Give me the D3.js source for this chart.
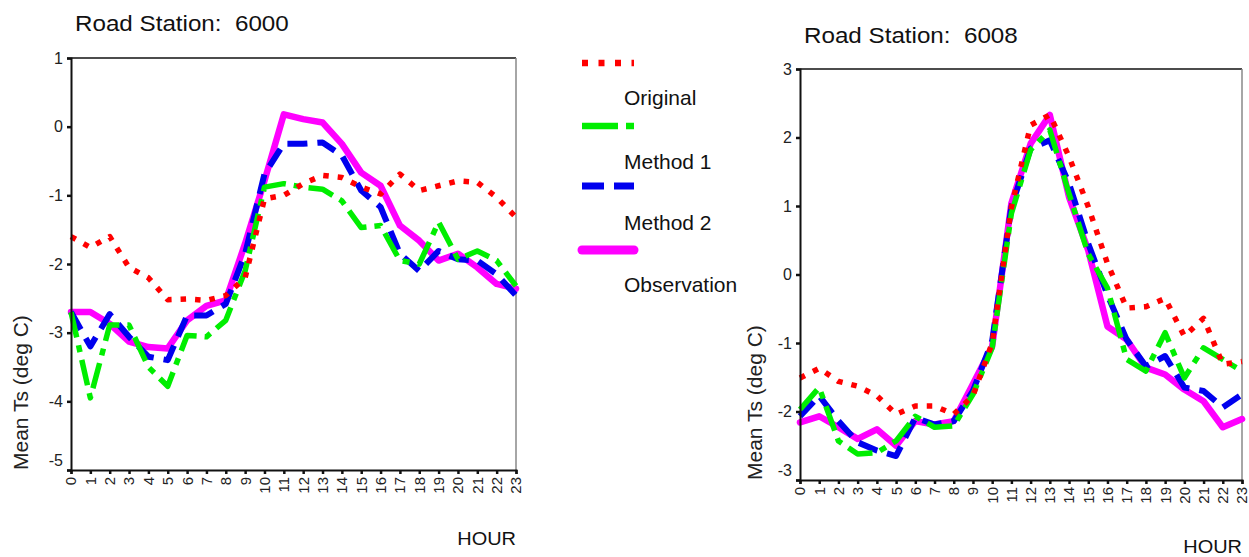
<!DOCTYPE html>
<html><head><meta charset="utf-8">
<script src="https://cdn.jsdelivr.net/npm/d3@7/dist/d3.min.js"></script>
<style>body{margin:0;background:#fff}svg{display:block;font-family:"Liberation Sans",Arial,sans-serif}</style>
</head><body><svg id="c" width="1249" height="557"></svg>
<script>
const hours = d3.range(0, 24);
const hourLabels = hours.map(String);
const seriesNames = ["Original", "Method 1", "Method 2", "Observation"];

// Road Station 6000
const s6000_original = [-1.6,-1.76,-1.6,-2.05,-2.2,-2.52,-2.51,-2.53,-2.46,-2.2,-1.05,-1.0,-0.83,-0.71,-0.74,-0.88,-0.98,-0.69,-0.93,-0.86,-0.79,-0.81,-1.03,-1.32];
const s6000_method1  = [-2.7,-3.95,-2.89,-2.89,-3.5,-3.78,-3.04,-3.06,-2.82,-2.1,-0.88,-0.83,-0.88,-0.91,-1.08,-1.47,-1.44,-1.95,-2.0,-1.39,-1.93,-1.81,-1.95,-2.32];
const s6000_method2  = [-2.7,-3.2,-2.73,-3.06,-3.35,-3.4,-2.75,-2.75,-2.58,-1.85,-0.69,-0.25,-0.25,-0.23,-0.42,-0.93,-1.17,-1.85,-2.1,-1.81,-1.93,-1.95,-2.15,-2.46];
const s6000_obs      = [-2.7,-2.7,-2.87,-3.13,-3.21,-3.23,-2.82,-2.61,-2.53,-1.7,-0.79,0.18,0.11,0.06,-0.25,-0.67,-0.86,-1.44,-1.66,-1.95,-1.85,-2.05,-2.29,-2.36];
const s6000_ticks = [1,0,-1,-2,-3,-4,-5];

// Road Station 6008
const s6008_original = [-1.51,-1.37,-1.56,-1.63,-1.77,-2.04,-1.92,-1.92,-2.04,-1.77,-1.0,0.98,2.18,2.33,1.72,0.99,0.16,-0.49,-0.47,-0.35,-0.9,-0.64,-1.31,-1.27];
const s6008_method1  = [-1.97,-1.65,-2.43,-2.62,-2.6,-2.43,-2.07,-2.23,-2.21,-1.75,-1.07,0.89,1.82,2.11,1.18,0.3,-0.2,-1.24,-1.41,-0.85,-1.51,-1.07,-1.24,-1.41];
const s6008_method2  = [-2.07,-1.77,-2.14,-2.45,-2.57,-2.65,-2.09,-2.19,-2.14,-1.7,-0.97,0.99,1.84,1.96,1.33,0.45,-0.3,-0.95,-1.34,-1.19,-1.65,-1.7,-1.94,-1.75];
const s6008_obs      = [-2.16,-2.07,-2.23,-2.4,-2.26,-2.5,-2.14,-2.19,-2.14,-1.6,-1.05,1.04,1.91,2.33,1.13,0.35,-0.76,-0.95,-1.36,-1.46,-1.68,-1.85,-2.23,-2.11];
const s6008_ticks = [3,2,1,0,-1,-2,-3];

const styles = {
  "Original":    {color:"#ff0000", width:5.5, dash:"5.5,9", cap:"butt"},
  "Method 1":    {color:"#00ee00", width:5.5, dash:"26,8,7,8", cap:"butt"},
  "Method 2":    {color:"#0000ee", width:6, dash:"20,10", cap:"butt"},
  "Observation": {color:"#ff00ff", width:6.5, dash:null, cap:"round"}
};

const svg = d3.select("#c");

function stretchedText(parent, x, y, size, sx, txt, anchor){
  return parent.append("text")
    .attr("transform", `translate(${x},${y}) scale(${sx},1)`)
    .attr("font-size", size).attr("fill", "#111").attr("xml:space","preserve")
    .attr("text-anchor", anchor || "start").text(txt);
}

function panel(cfg){
  const x = d3.scaleLinear().domain([0,23]).range([cfg.x0, cfg.x1]);
  const y = d3.scaleLinear().domain(cfg.domain).range([cfg.yb, cfg.yt]);
  const g = svg.append("g");
  stretchedText(g, cfg.x0 + 4, cfg.titleY, 22, 1.1, cfg.title);
  // frame top/right
  g.append("line").attr("x1", x(0)).attr("x2", x(23)).attr("y1", y(cfg.domain[1])).attr("y2", y(cfg.domain[1]))
    .attr("stroke","#111").attr("stroke-width",1.5);
  g.append("line").attr("x1", x(23)).attr("x2", x(23)).attr("y1", y(cfg.domain[1])).attr("y2", y(cfg.domain[0]))
    .attr("stroke","#888").attr("stroke-width",1.5);
  // lines
  const line = d3.line().x((d,i)=>x(hours[i])).y(d=>y(d));
  const order = ["Observation","Method 2","Method 1","Original"];
  order.forEach(name=>{
    const st = styles[name];
    g.append("path").datum(cfg.series[name]).attr("d", line)
      .attr("fill","none").attr("stroke", st.color).attr("stroke-width", st.width)
      .attr("stroke-dasharray", st.dash).attr("stroke-linecap", st.cap).attr("stroke-linejoin","round");
  });
  // y axis
  const ya = d3.axisLeft(y).tickValues(cfg.ticks).tickSize(4).tickFormat(d3.format("d"));
  const yg = g.append("g").attr("transform", `translate(${x(0)},0)`).call(ya);
  yg.select(".domain").attr("stroke","#111").attr("stroke-width",2);
  yg.selectAll(".tick line").attr("stroke","#111").attr("stroke-width",2.5);
  yg.selectAll(".tick text").attr("font-size",16).attr("fill","#222").attr("x",-8)
    .attr("dy", d => d === cfg.domain[0] ? "-0.3em" : "0.32em")
    .text(d => d < 0 ? "-" + Math.abs(d) : d);
  // x axis
  const xa = d3.axisBottom(x).tickValues(hours).tickSize(4).tickFormat((d,i)=>hourLabels[i]);
  const xg = g.append("g").attr("transform", `translate(0,${y(cfg.domain[0])})`).call(xa);
  xg.select(".domain").attr("stroke","#111").attr("stroke-width",2);
  xg.selectAll(".tick line").attr("stroke","#111").attr("stroke-width",2.5);
  xg.selectAll(".tick text").attr("font-size",15).attr("fill","#222")
    .attr("transform","rotate(-90)").attr("text-anchor","end").attr("x",-7).attr("y",0).attr("dy","0.33em");
  // axis titles
  g.append("text").attr("transform", `translate(${cfg.ytx},${y(cfg.domain[0])}) rotate(-90)`)
    .attr("font-size",21).attr("fill","#222").text("Mean Ts (deg C)");
  stretchedText(g, x(23), y(cfg.domain[0]) + cfg.hourDy, 19, 1.05, "HOUR", "end");
}

panel({title:"Road Station:  6000", titleY:31, x0:71, x1:516, yt:58, yb:470, domain:[-5,1], ticks:s6000_ticks, ytx:28, hourDy:75,
  series:{"Original":s6000_original,"Method 1":s6000_method1,"Method 2":s6000_method2,"Observation":s6000_obs}});
panel({title:"Road Station:  6008", titleY:43, x0:800, x1:1242, yt:69, yb:480, domain:[-3,3], ticks:s6008_ticks, ytx:762, hourDy:73,
  series:{"Original":s6008_original,"Method 1":s6008_method1,"Method 2":s6008_method2,"Observation":s6008_obs}});

// legend
const legY = [63, 126, 186, 250];
const legTextY = [105, 169, 230, 292];
const lg = svg.append("g");
seriesNames.forEach((name,i)=>{
  const st = styles[name];
  const isObs = name === "Observation";
  lg.append("line").attr("x1", 582).attr("x2", 634)
    .attr("y1", legY[i]).attr("y2", legY[i])
    .attr("stroke", st.color).attr("stroke-width", isObs ? 9 : (name==="Method 2"?7:6.5))
    .attr("stroke-dasharray", name==="Original" ? "6,10.5" : name==="Method 1" ? "36,8,8,8" : name==="Method 2" ? "22,10" : null)
    .attr("stroke-linecap", isObs ? "round" : "butt");
  stretchedText(lg, 624, legTextY[i], 20, 1.05, name);
});
</script></body></html>
